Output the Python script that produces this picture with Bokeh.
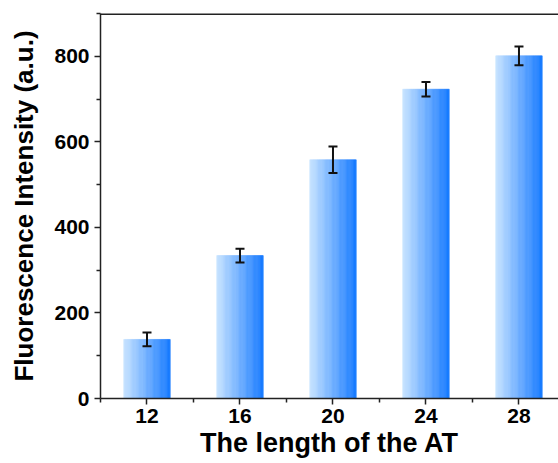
import numpy as np
from bokeh.plotting import figure
from bokeh.models import ColumnDataSource, Whisker, TeeHead, FixedTicker, Range1d, Span
from bokeh.embed import file_html
from bokeh.resources import INLINE

# ---- data ----
lengths = [12, 16, 20, 24, 28]
intensity = [138, 334, 558, 723, 801]
errors = [16, 16, 31, 17, 22]
x_ticks = [12, 16, 20, 24, 28]
x_minor = [10, 14, 18, 22, 26, 30]
y_ticks = [0, 200, 400, 600, 800]
y_minor = [100, 300, 500, 700, 900]

# ---- style ----
bar_width = 2.0
n_strips = 40
c_left = np.array([200, 228, 255])
c_right = np.array([22, 122, 255])
font = "Liberation Sans"
y_top = 900

p = figure(width=558, height=463, x_range=Range1d(10, 29.7), y_range=Range1d(0, y_top),
           output_backend="svg", toolbar_location=None,
           min_border_left=100, min_border_right=0, min_border_top=13, min_border_bottom=65)

# gradient bars built from strips
lefts, rights, tops, colors = [], [], [], []
for xc, h in zip(lengths, intensity):
    x0 = xc - bar_width / 2
    for i in range(n_strips):
        f = i / (n_strips - 1)
        c = (c_left + (c_right - c_left) * f).astype(int)
        lefts.append(x0 + bar_width * i / n_strips)
        rights.append(x0 + bar_width * (i + 1) / n_strips)
        tops.append(h)
        colors.append("#%02x%02x%02x" % tuple(c))
strip_src = ColumnDataSource(dict(left=lefts, right=rights, top=tops, bottom=[0] * len(tops), color=colors))
p.quad(left="left", right="right", top="top", bottom="bottom", fill_color="color",
       line_color="color", line_width=0.6, source=strip_src)

# error bars
err_src = ColumnDataSource(dict(x=lengths,
                                upper=[v + e for v, e in zip(intensity, errors)],
                                lower=[v - e for v, e in zip(intensity, errors)]))
w = Whisker(base="x", upper="upper", lower="lower", source=err_src, level="overlay",
            line_color="#111111", line_width=2,
            upper_head=TeeHead(size=9, line_color="#111111", line_width=2),
            lower_head=TeeHead(size=9, line_color="#111111", line_width=2))
p.add_layout(w)

# top frame line
p.add_layout(Span(location=y_top, dimension="width", line_color="#222222", line_width=3, level="overlay"))

p.xgrid.visible = False
p.ygrid.visible = False
p.outline_line_color = None

bottom_axis = p.below[0]
left_axis = p.left[0]
bottom_axis.ticker = FixedTicker(ticks=x_ticks, minor_ticks=x_minor)
left_axis.ticker = FixedTicker(ticks=y_ticks, minor_ticks=y_minor)

for ax in (bottom_axis, left_axis):
    ax.axis_line_color = "#222222"
    ax.axis_line_width = 1.5
    ax.major_tick_line_color = "#222222"
    ax.major_tick_line_width = 1.5
    ax.minor_tick_line_color = "#222222"
    ax.minor_tick_line_width = 1.5
    ax.major_tick_in = 0
    ax.major_tick_out = 6
    ax.minor_tick_in = 0
    ax.minor_tick_out = 4
    ax.major_label_text_font = font
    ax.major_label_text_font_style = "bold"
    ax.major_label_text_font_size = "21px"
    ax.major_label_text_color = "black"
    ax.axis_label_text_font = font
    ax.axis_label_text_font_style = "bold"
    ax.axis_label_text_color = "black"

bottom_axis.axis_label_text_font_size = "27px"
left_axis.axis_label_text_font_size = "26px"
bottom_axis.axis_label = "The length of the AT"
left_axis.axis_label = "Fluorescence Intensity (a.u.)"
bottom_axis.major_label_standoff = 4
bottom_axis.axis_label_standoff = 2
left_axis.major_label_standoff = 5
left_axis.axis_label_standoff = 12

open("out.html", "w").write(file_html(p, INLINE))
